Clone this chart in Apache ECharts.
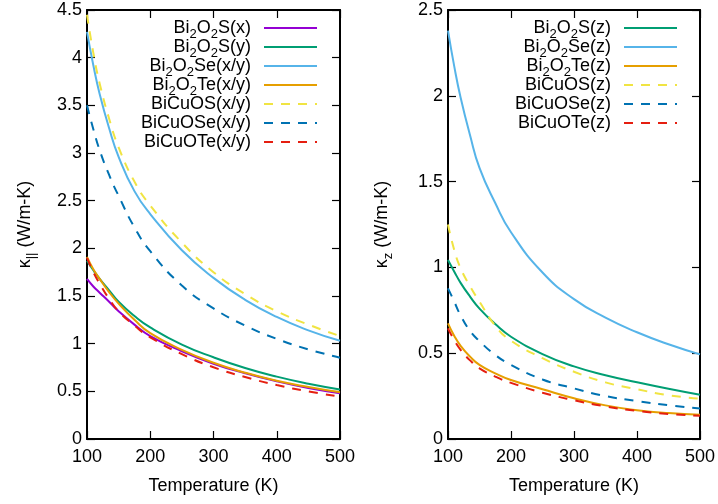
<!DOCTYPE html>
<html>
<head>
<meta charset="utf-8">
<script src="https://cdn.jsdelivr.net/npm/echarts@6/dist/echarts.min.js"></script>
<style>
html,body{margin:0;padding:0;background:#fff;}
#c{width:718px;height:504px;}
</style>
</head>
<body>
<div id="c"></div>
<script>
// Temperature grid (K)
const T = [100, 110, 120, 135, 150, 175, 200, 250, 300, 350, 400, 450, 500];
const xTicks = [100, 200, 300, 400, 500];

// In-plane thermal conductivity k_|| (W/m-K)
const bi2o2s_x   = [1.68, 1.60, 1.535, 1.44, 1.34, 1.20, 1.08, 0.92, 0.79, 0.69, 0.605, 0.535, 0.48];
const bi2o2s_y   = [1.87, 1.77, 1.68, 1.56, 1.44, 1.29, 1.17, 0.99, 0.857, 0.745, 0.654, 0.58, 0.52];
const bi2o2se_xy = [4.27, 3.92, 3.62, 3.26, 2.96, 2.60, 2.36, 1.98, 1.69, 1.46, 1.28, 1.14, 1.03];
const bi2o2te_xy = [1.91, 1.78, 1.68, 1.54, 1.42, 1.25, 1.11, 0.935, 0.80, 0.695, 0.61, 0.545, 0.49];
const bicuos_xy  = [4.45, 4.05, 3.73, 3.36, 3.06, 2.70, 2.45, 2.06, 1.75, 1.52, 1.34, 1.20, 1.08];
const bicuose_xy = [3.50, 3.25, 3.03, 2.77, 2.55, 2.22, 1.97, 1.61, 1.37, 1.19, 1.05, 0.94, 0.853];
const bicuote_xy = [1.90, 1.75, 1.63, 1.47, 1.34, 1.19, 1.067, 0.89, 0.752, 0.65, 0.566, 0.50, 0.444];

// Cross-plane thermal conductivity k_z (W/m-K)
const bi2o2s_z  = [1.043, 0.975, 0.91, 0.83, 0.76, 0.67, 0.596, 0.495, 0.423, 0.372, 0.331, 0.293, 0.258];
const bi2o2se_z = [2.38, 2.17, 1.99, 1.77, 1.58, 1.375, 1.205, 0.97, 0.815, 0.707, 0.622, 0.552, 0.493];
const bi2o2te_z = [0.674, 0.60, 0.543, 0.48, 0.432, 0.383, 0.344, 0.29, 0.238, 0.196, 0.168, 0.151, 0.142];
const bicuos_z  = [1.25, 1.10, 0.995, 0.89, 0.80, 0.66, 0.573, 0.471, 0.392, 0.33, 0.29, 0.255, 0.235];
const bicuose_z = [0.878, 0.80, 0.72, 0.63, 0.57, 0.49, 0.432, 0.347, 0.295, 0.25, 0.221, 0.197, 0.178];
const bicuote_z = [0.645, 0.575, 0.52, 0.458, 0.412, 0.364, 0.327, 0.27, 0.226, 0.19, 0.164, 0.146, 0.135];

const leftNames  = ['Bi2O2S(x)', 'Bi2O2S(y)', 'Bi2O2Se(x/y)', 'Bi2O2Te(x/y)', 'BiCuOS(x/y)', 'BiCuOSe(x/y)', 'BiCuOTe(x/y)'];
const rightNames = ['Bi2O2S(z)', 'Bi2O2Se(z)', 'Bi2O2Te(z)', 'BiCuOS(z)', 'BiCuOSe(z)', 'BiCuOTe(z)'];
const leftData  = [bi2o2s_x, bi2o2s_y, bi2o2se_xy, bi2o2te_xy, bicuos_xy, bicuose_xy, bicuote_xy];
const rightData = [bi2o2s_z, bi2o2se_z, bi2o2te_z, bicuos_z, bicuose_z, bicuote_z];
const leftColors  = ['#9400d3', '#009e73', '#56b4e9', '#e69f00', '#f0e442', '#0072b2', '#e51e10'];
const leftDashed  = [false, false, false, false, true, true, true];
const rightColors = ['#009e73', '#56b4e9', '#e69f00', '#f0e442', '#0072b2', '#e51e10'];
const rightDashed = [false, false, false, true, true, true];

const FONT = 'Liberation Sans, Arial, Helvetica, sans-serif';
const DASH = [9, 8];

function pairs(ys) { return T.map((t, i) => [t, ys[i]]); }

function makeSeries(names, data, colors, dashed, axisIdx) {
  return names.map((n, i) => ({
    name: n,
    type: 'line',
    xAxisIndex: axisIdx,
    yAxisIndex: axisIdx,
    data: pairs(data[i]),
    smooth: 0.5,
    showSymbol: false,
    symbol: 'none',
    animation: false,
    lineStyle: { color: colors[i], width: 2, type: dashed[i] ? DASH : 'solid' },
    itemStyle: { color: colors[i] },
    emphasis: { disabled: true }
  }));
}

function xAxis(gridIndex, position, showLabels) {
  return {
    type: 'value', gridIndex, position, min: 100, max: 500, interval: 100,
    name: showLabels ? 'Temperature (K)' : '',
    nameLocation: 'middle', nameGap: 38,
    nameTextStyle: { fontFamily: FONT, fontSize: 18, color: '#000' },
    axisLine: { show: true, onZero: false, lineStyle: { color: '#000', width: 2 } },
    axisTick: { show: true, inside: true, length: 8, lineStyle: { color: '#000', width: 1.2 } },
    axisLabel: { show: showLabels, margin: 9, fontFamily: FONT, fontSize: 18, color: '#000' },
    splitLine: { show: false }
  };
}

function yAxis(gridIndex, position, max, showLabels, name, gap) {
  return {
    type: 'value', gridIndex, position, min: 0, max: max, interval: 0.5,
    name: showLabels ? name : '',
    nameLocation: 'middle', nameGap: gap, nameRotate: 90,
    nameTextStyle: { fontFamily: FONT, fontSize: 18, color: '#000', lineHeight: 26,
      rich: { s: { fontFamily: FONT, fontSize: 13, lineHeight: 8, verticalAlign: 'bottom', color: '#000' } } },
    axisLine: { show: true, onZero: false, lineStyle: { color: '#000', width: 2 } },
    axisTick: { show: true, inside: true, length: 8, lineStyle: { color: '#000', width: 1.2 } },
    axisLabel: { show: showLabels, margin: 5, fontFamily: FONT, fontSize: 18, color: '#000',
      formatter: v => String(v) },
    splitLine: { show: false }
  };
}

function legend(names, rightPx) {
  return {
    data: names,
    orient: 'vertical',
    align: 'right',
    right: rightPx,
    top: 15,
    padding: 0,
    itemWidth: 53,
    itemHeight: 14,
    itemGap: -7,
    selectedMode: false,
    itemStyle: { opacity: 0 },
    textStyle: { fontFamily: FONT, fontSize: 18, color: '#000', lineHeight: 26,
      rich: {
        s: { fontFamily: FONT, fontSize: 13, lineHeight: 8, verticalAlign: 'bottom', color: '#000' },
        g: { width: 8 }
      } },
    formatter: n => n.replace(/2/g, '{s|2}') + '{g| }'
  };
}

const chart = echarts.init(document.getElementById('c'), null, { renderer: 'canvas' });
chart.setOption({
  backgroundColor: '#fff',
  animation: false,
  grid: [
    { left: 87, top: 10, width: 253, height: 429, containLabel: false },
    { left: 448, top: 10, width: 253, height: 429, containLabel: false }
  ],
  xAxis: [
    xAxis(0, 'bottom', true), xAxis(0, 'top', false),
    xAxis(1, 'bottom', true), xAxis(1, 'top', false)
  ],
  yAxis: [
    yAxis(0, 'left', 4.5, true, 'κ{s|||} (W/m-K)', 49), yAxis(0, 'right', 4.5, false, '', 49),
    yAxis(1, 'left', 2.5, true, 'κ{s|z} (W/m-K)', 53), yAxis(1, 'right', 2.5, false, '', 53)
  ],
  legend: [legend(leftNames, 718 - 318), legend(rightNames, 718 - 678)],
  series: [
    ...makeSeries(leftNames, leftData, leftColors, leftDashed, 0),
    ...makeSeries(rightNames, rightData, rightColors, rightDashed, 2)
  ]
});
</script>
</body>
</html>
